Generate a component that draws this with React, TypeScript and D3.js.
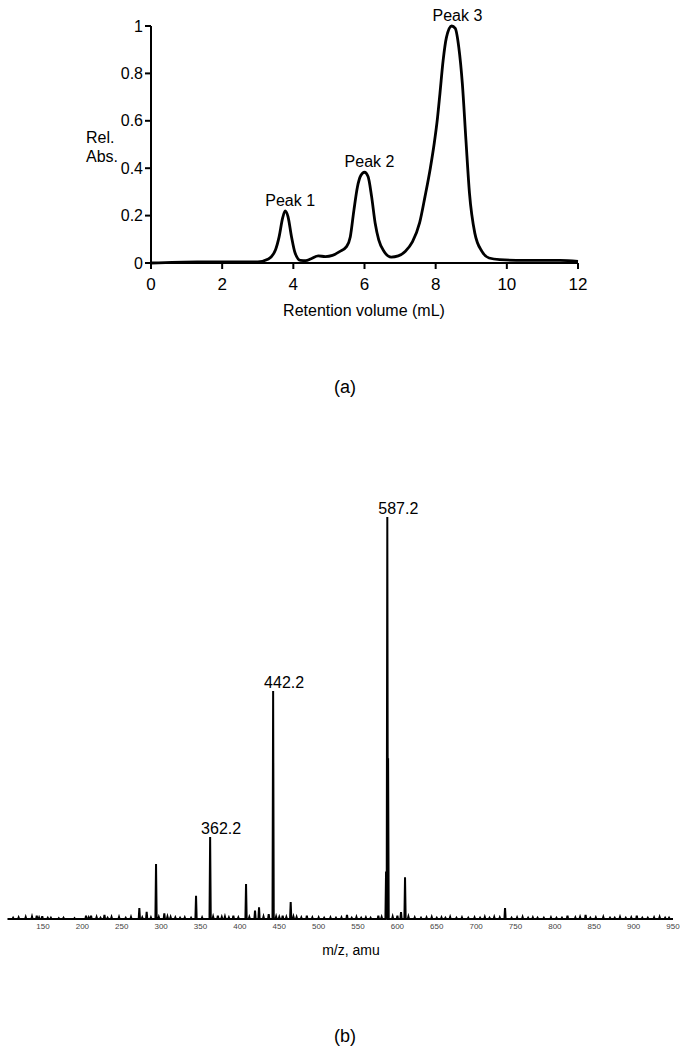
import * as d3 from 'd3';
import React from 'react';

// (a) elution profile
const retentionVolume = [0, 1.3, 3.0, 3.3, 3.5, 3.6, 3.7, 3.77, 3.85, 3.95, 4.05, 4.2, 4.35, 4.5, 4.7, 4.9, 5.1, 5.3, 5.5, 5.6, 5.7, 5.8, 5.9, 6.0, 6.1, 6.2, 6.3, 6.4, 6.55, 6.75, 6.95, 7.15, 7.35, 7.55, 7.7, 7.85, 7.96, 8.05, 8.12, 8.21, 8.3, 8.45, 8.55, 8.65, 8.75, 8.85, 8.95, 9.1, 9.3, 9.5, 9.8, 10.5, 11.5, 12];
const relAbs = [0, 0.005, 0.005, 0.017, 0.056, 0.11, 0.19, 0.22, 0.196, 0.11, 0.042, 0.011, 0.01, 0.018, 0.03, 0.027, 0.032, 0.048, 0.07, 0.11, 0.22, 0.32, 0.37, 0.383, 0.365, 0.28, 0.168, 0.098, 0.049, 0.025, 0.03, 0.05, 0.09, 0.17, 0.28, 0.4, 0.505, 0.61, 0.715, 0.855, 0.95, 1.0, 0.99, 0.91, 0.757, 0.52, 0.295, 0.126, 0.049, 0.021, 0.014, 0.011, 0.011, 0.007];
const xTicksA = [0, 2, 4, 6, 8, 10, 12];
const yTicksA = [0, 0.2, 0.4, 0.6, 0.8, 1];
const peakNames = ['Peak 1', 'Peak 2', 'Peak 3'];
const peakVolumes = [3.77, 6.0, 8.47];
const peakHeights = [0.22, 0.383, 1.0];

// (b) mass spectrum, relative intensity (%)
const mzValues = [112, 119, 128, 136, 142, 145, 149, 156, 160, 170, 176, 190, 204.6, 208, 211, 218, 223, 228, 232, 237, 246.5, 255, 261.7, 272.3, 276, 281.6, 287, 293.5, 297, 304, 308, 312, 318, 324, 330, 338, 344.3, 352, 362.2, 366, 372, 377, 381, 386, 391.7, 398, 407.8, 412, 419.2, 424.3, 430, 436.6, 442.2, 446, 450, 454.3, 459, 464.5, 468, 472, 478, 485, 492, 500, 507, 515, 522, 529, 536, 542, 548, 554, 560, 566, 575.8, 580, 585.6, 587.2, 588.2, 594, 600, 604.6, 609.7, 614, 622, 630, 637, 643.6, 650, 656, 661, 667, 675, 682, 690, 698, 705, 711, 717, 723, 730, 736.7, 745, 752, 759, 766, 772, 778, 786, 795, 802, 809, 816, 826, 832, 839, 845, 852, 861.5, 870, 876, 882.7, 890, 897, 904, 911, 918, 926, 933, 940, 945];
const intensities = [0.3, 0.4, 0.5, 0.6, 0.8, 0.4, 0.7, 0.3, 0.3, 0.2, 0.3, 0.2, 0.8, 0.4, 0.8, 0.5, 0.3, 1.0, 0.3, 0.5, 0.5, 0.3, 0.5, 2.7, 0.4, 1.8, 0.4, 13.7, 0.5, 1.4, 0.6, 0.5, 0.4, 0.3, 0.4, 0.3, 5.8, 0.4, 20.4, 0.6, 0.8, 0.5, 0.6, 0.4, 0.8, 0.4, 8.7, 0.5, 2.1, 2.9, 0.6, 1.2, 56.7, 0.6, 0.5, 0.8, 0.5, 4.2, 0.6, 0.5, 0.4, 0.8, 0.4, 0.4, 0.3, 0.4, 0.3, 0.4, 1.0, 0.3, 0.5, 0.3, 0.4, 0.3, 0.8, 0.5, 11.8, 100, 40, 0.6, 0.8, 1.7, 10.4, 0.6, 0.4, 0.3, 0.4, 0.5, 0.3, 0.4, 0.3, 0.5, 0.3, 0.4, 0.3, 0.4, 0.3, 0.5, 0.3, 0.5, 0.4, 2.7, 0.3, 0.4, 0.5, 0.3, 0.4, 0.3, 0.3, 0.4, 0.3, 0.3, 0.8, 0.4, 0.5, 1.0, 0.3, 0.4, 0.5, 0.3, 0.3, 0.5, 0.3, 0.4, 0.8, 0.3, 0.3, 0.4, 0.5, 0.3, 0.3];
const labelledMz = [362.2, 442.2, 587.2];
const xTicksB = [150, 200, 250, 300, 350, 400, 450, 500, 550, 600, 650, 700, 750, 800, 850, 900, 950];

const font = '"Liberation Sans", Arial, sans-serif';

const App = () => {
    // chart (a) scales
    const xA = d3.scaleLinear().domain([0, 12]).range([151, 578]);
    const yA = d3.scaleLinear().domain([0, 1]).range([263, 26]);
    const trace = retentionVolume.map((v, i) => [v, relAbs[i]] as [number, number]);
    const lineA = d3.line<[number, number]>()
        .x(d => xA(d[0]))
        .y(d => yA(d[1]))
        .curve(d3.curveMonotoneX);

    // chart (b) scales
    const xB = d3.scaleLinear().domain([105, 950]).range([7.6, 673]);
    const yB = d3.scaleLinear().domain([0, 100]).range([919, 517]);
    const halfWidth = 0.8;
    const spectrumPts: [number, number][] = [[105, 0]];
    mzValues.forEach((mz, i) => {
        spectrumPts.push([mz - halfWidth, 0], [mz, intensities[i]], [mz + halfWidth, 0]);
    });
    spectrumPts.push([950, 0]);
    const lineB = d3.line<[number, number]>()
        .x(d => xB(d[0]))
        .y(d => yB(d[1]));

    return (
        <svg width={687} height={1050} style={{ position: 'absolute', left: 0, top: 0, background: '#fff' }} fontFamily={font}>
            {/* (a) */}
            <g>
                <path d={lineA(trace) ?? ''} fill="none" stroke="#000" strokeWidth={2.8} strokeLinejoin="round" />
                <line x1={xA(0)} x2={xA(0)} y1={yA(0)} y2={yA(1)} stroke="#000" strokeWidth={2} />
                <line x1={xA(0)} x2={xA(12)} y1={yA(0)} y2={yA(0)} stroke="#000" strokeWidth={2} />
                {yTicksA.map(t => (
                    <g key={t} transform={`translate(0, ${yA(t)})`}>
                        <line x1={xA(0) - 6} x2={xA(0)} stroke="#000" strokeWidth={2} />
                        <text x={xA(0) - 8} dy="0.35em" fontSize={16} textAnchor="end">{t}</text>
                    </g>
                ))}
                {xTicksA.map(t => (
                    <g key={t} transform={`translate(${xA(t)}, 0)`}>
                        <line y1={yA(0)} y2={yA(0) + 6} stroke="#000" strokeWidth={2} />
                        <text y={290} fontSize={17} textAnchor="middle">{t}</text>
                    </g>
                ))}
                <text x={364} y={316} fontSize={16} textAnchor="middle">Retention volume (mL)</text>
                <text x={86} y={143} fontSize={16}>Rel.</text>
                <text x={86} y={162} fontSize={16}>Abs.</text>
                {peakNames.map((name, i) => (
                    <text key={name} x={xA(peakVolumes[i]) + 5} y={yA(peakHeights[i]) - 5} fontSize={16} textAnchor="middle">{name}</text>
                ))}
                <text x={345} y={393} fontSize={18} textAnchor="middle">(a)</text>
            </g>

            {/* (b) */}
            <g>
                <path d={lineB(spectrumPts) ?? ''} fill="none" stroke="#000" strokeWidth={2} strokeLinejoin="miter" />
                <line x1={xB(105)} x2={xB(950)} y1={yB(0)} y2={yB(0)} stroke="#000" strokeWidth={1.2} />
                {xTicksB.map(t => (
                    <text key={t} x={xB(t)} y={929} fontSize={8} fill="#444" textAnchor="middle">{t}</text>
                ))}
                {labelledMz.map(mz => {
                    const i = mzValues.indexOf(mz);
                    return (
                        <text key={mz} x={xB(mz) + 11} y={yB(intensities[i]) - 3} fontSize={16} textAnchor="middle">{mz.toFixed(1)}</text>
                    );
                })}
                <text x={351} y={955} fontSize={14} textAnchor="middle">m/z, amu</text>
                <text x={345} y={1042} fontSize={18} textAnchor="middle">(b)</text>
            </g>
        </svg>
    );
};

export default App;
